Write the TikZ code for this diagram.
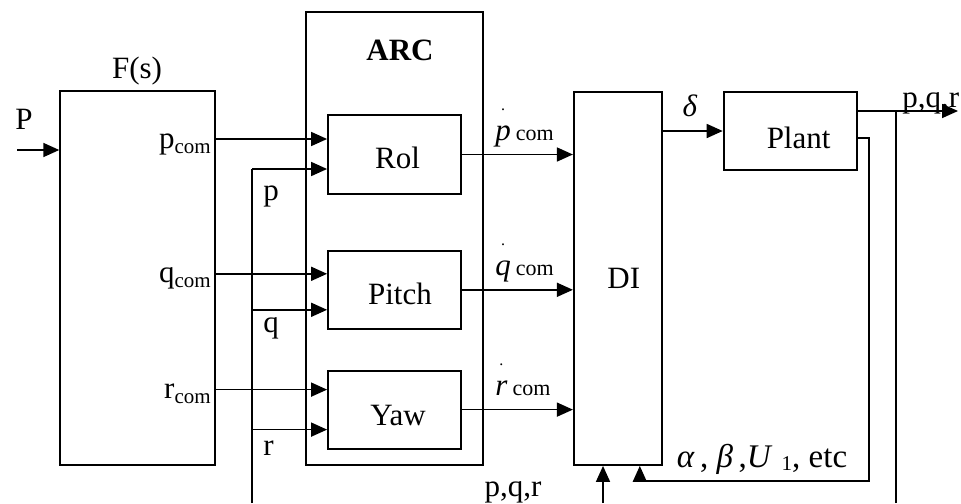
\documentclass[tikz,border=0pt]{standalone}
\usepackage{fontspec}
\setmainfont{Liberation Serif}
\usetikzlibrary{arrows.meta,positioning}

\newcommand{\sz}[1]{\fontsize{#1}{#1}\selectfont}
\newcommand{\dotover}[1]{\ooalign{#1\cr\hidewidth\raisebox{15pt}{\sz{8}.}\hidewidth\cr}}

\begin{document}
\begin{tikzpicture}[
  x=0.5pt, y=-0.5pt,
  font=\sz{15.5},
  box/.style={rectangle, draw, line width=0.9pt, inner sep=0pt},
  blk/.style={box, minimum width=66.5pt, minimum height=39pt},
  lbl/.style={inner sep=0pt},
  arrow/.style={-{Triangle[length=8pt,width=7pt]}, line width=0.8pt},
  line/.style={line width=0.8pt}
]
  \useasboundingbox (0,0) rectangle (961,503);

  % ARC block with the three channel controllers
  \node[box, minimum width=88.5pt, minimum height=226.5pt] (arc) at (394.5,238.5) {};
  \node[lbl, font=\sz{15.5}\bfseries] (arclbl) at (400,50) {ARC};
  \node[blk, below=51.5pt of arc.north, minimum height=39.5pt, label={[xshift=1.5pt,yshift=-1.5pt]center:Rol}] (rol) {};
  \node[blk, below=27.5pt of rol, label={[xshift=2.75pt,yshift=-2pt]center:Pitch}] (pitch) {};
  \node[blk, below=20pt of pitch, label={[xshift=1.75pt,yshift=-3pt]center:Yaw}] (yaw) {};

  % prefilter, dynamic inversion and plant
  \node[box, minimum width=77.5pt, minimum height=187pt, left=44.5pt of arc.south west, anchor=south east] (fs) {};
  \node[lbl] (fslbl) at (137,71) {F(s)};
  \node[box, minimum width=44pt, minimum height=186.5pt, right=44.5pt of arc.south east, anchor=south west, label={[xshift=3pt]center:DI}] (di) {};
  \node[blk, right=30pt of di.north east, anchor=north west, label={[xshift=4.25pt,yshift=-3.5pt]center:Plant}] (plant) {};

  % free ends
  \coordinate (pin) at (17,150);
  \coordinate (pbot) at (252,503);
  \coordinate (dbot) at (603,503);
  \coordinate (obot) at (896,503);
  \coordinate (pout) at (958,111);
  \coordinate (fb) at (869,481);

  \draw[arrow] (pin) -- (pin -| fs.west);
  \node[lbl] (plbl) at (24,119) {P};

  % commands, rate feedback and pseudo-controls per channel
  \foreach \nm/\up/\dn in {rol/7.75pt/-7.25pt, pitch/8pt/-10pt, yaw/10pt/-10pt} {
    \draw[arrow] ([yshift=\up]\nm.west -| fs.east) -- ([yshift=\up]\nm.west);
    \draw[arrow] ([yshift=\dn]\nm.west -| pbot) -- ([yshift=\dn]\nm.west);
    \draw[arrow] (\nm.east) -- (\nm.east -| di.west);
  }
  \foreach \nm/\up/\dn/\off/\s in {rol/7.75pt/-7.25pt/-13.75pt/p, pitch/8pt/-10pt/-9.5pt/q, yaw/10pt/-10pt/-9.25pt/r} {
    \node[lbl, anchor=base east] at ([xshift=-2.5pt,yshift=\up-4.5pt]\nm.west -| fs.east) {\s\raisebox{-2.5pt}{\sz{10.5}com}};
    \node[lbl, anchor=base west] at ([xshift=16.5pt,yshift=7pt]\nm.east) {\dotover{\textit{\s}}\,\sz{11}com};
    \node[lbl, anchor=west] at ([xshift=5.5pt,yshift=\dn+\off]\nm.west -| pbot) {\s};
  }
  \draw[line] (pbot) -- ([yshift=-7.25pt]rol.west -| pbot);

  % plant loop
  \draw[arrow] (di.east |- plant.west) -- (plant.west);
  \node[lbl] (dlt) at (690,106) {\textit{δ}};
  \draw[arrow] (plant.east |- pout) -- (pout);
  \node[lbl, anchor=base west] (pqrt) at (902,107) {p,q,r};
  \draw[line] (obot) -- (obot |- pout);
  \draw[arrow] ([yshift=-3.5pt]plant.east) -| (fb) -| ([xshift=11pt]di.south);
  \node[lbl, anchor=base, font=\sz{16.5}] (aux) at (762,467) {\textit{α}\,, \textit{β}\,,\textit{U}\;\raisebox{-1.5pt}{\sz{10.5}1}, etc};
  \draw[arrow] (dbot) -- (dbot |- di.south);
  \node[lbl, anchor=base] (pqrb) at (513,496) {p,q,r};
\end{tikzpicture}
\end{document}
